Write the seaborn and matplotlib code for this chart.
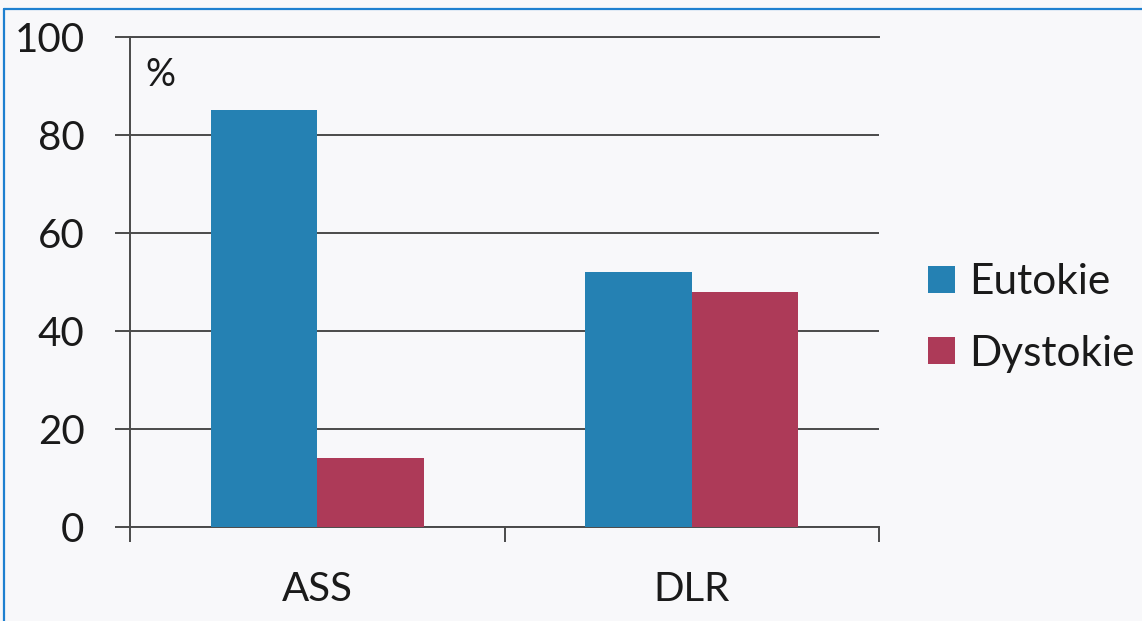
import matplotlib
matplotlib.use("Agg")
import matplotlib.pyplot as plt
from matplotlib.lines import Line2D
import pandas as pd
import seaborn as sns

# Share of births (%) by group
groups = ["ASS", "DLR"]
series = ["Eutokie", "Dystokie"]
eutokie = [85, 52]
dystokie = [14, 48]
y_ticks = [0, 20, 40, 60, 80, 100]
colors = ["#2581B3", "#AD3A58"]

df = pd.DataFrame({
    "group": groups * 2,
    "series": [series[0]] * len(groups) + [series[1]] * len(groups),
    "value": eutokie + dystokie,
})

sns.set_theme(style="white")
plt.rcParams["font.family"] = ["Lato", "DejaVu Sans"]

W, H = 1142, 621
bg = "#F8F8FA"
line_col = "#4A4A4A"

fig = plt.figure(figsize=(W / 100, H / 100), dpi=100, facecolor=bg)
ax = fig.add_axes([130 / W, 1 - 527 / H, (879 - 130) / W, (527 - 37) / H])
ax.set_facecolor("none")

sns.barplot(data=df, x="group", y="value", hue="series", hue_order=series,
            order=groups, palette=colors, width=0.57, saturation=1,
            linewidth=0, ax=ax, zorder=3)

ax.set_xlim(-0.5, 1.5)
ax.set_ylim(0, 100)
ax.set_yticks(y_ticks)
ax.set_xlabel("")
ax.set_ylabel("")

# horizontal gridlines behind the bars
ax.set_axisbelow(True)
ax.yaxis.grid(True, color=line_col, linewidth=1.4)
ax.xaxis.grid(False)

for side in ["left", "bottom", "top"]:
    ax.spines[side].set_visible(True)
    ax.spines[side].set_color(line_col)
    ax.spines[side].set_linewidth(1.4)
ax.spines["right"].set_visible(False)

ax.tick_params(axis="y", length=10.8, width=1.4, color=line_col, pad=22,
               labelsize=29, labelcolor="#1a1a1a", left=True, direction="out")
ax.tick_params(axis="x", which="major", length=0, pad=32,
               labelsize=29, labelcolor="#1a1a1a")
ax.set_xticks([-0.5, 0.5, 1.5], minor=True)
ax.tick_params(axis="x", which="minor", length=10.8, width=1.4,
               color=line_col, bottom=True, direction="out")

# unit label inside the plot
fig.text(145 / W, 1 - 75 / H, "%", fontsize=27, color="#1a1a1a",
         ha="left", va="center")

handles, labels = ax.get_legend_handles_labels()
ax.get_legend().remove()
fig.legend(handles, labels, loc="center left",
           bbox_to_anchor=(928 / W, 1 - 318 / H), frameon=False,
           fontsize=30.5, handlelength=0.63, handleheight=0.63,
           handletextpad=0.34, labelspacing=0.78, borderpad=0,
           borderaxespad=0, labelcolor="#1a1a1a")

# blue frame edges
frame_col = "#1E80D0"
fig.add_artist(Line2D([4 / W, 1], [1 - 9 / H, 1 - 9 / H], color=frame_col,
                      linewidth=1.6, transform=fig.transFigure))
fig.add_artist(Line2D([4 / W, 4 / W], [0, 1 - 9 / H], color=frame_col,
                      linewidth=1.6, transform=fig.transFigure))

fig.savefig("out.png", dpi=100, facecolor=bg)
